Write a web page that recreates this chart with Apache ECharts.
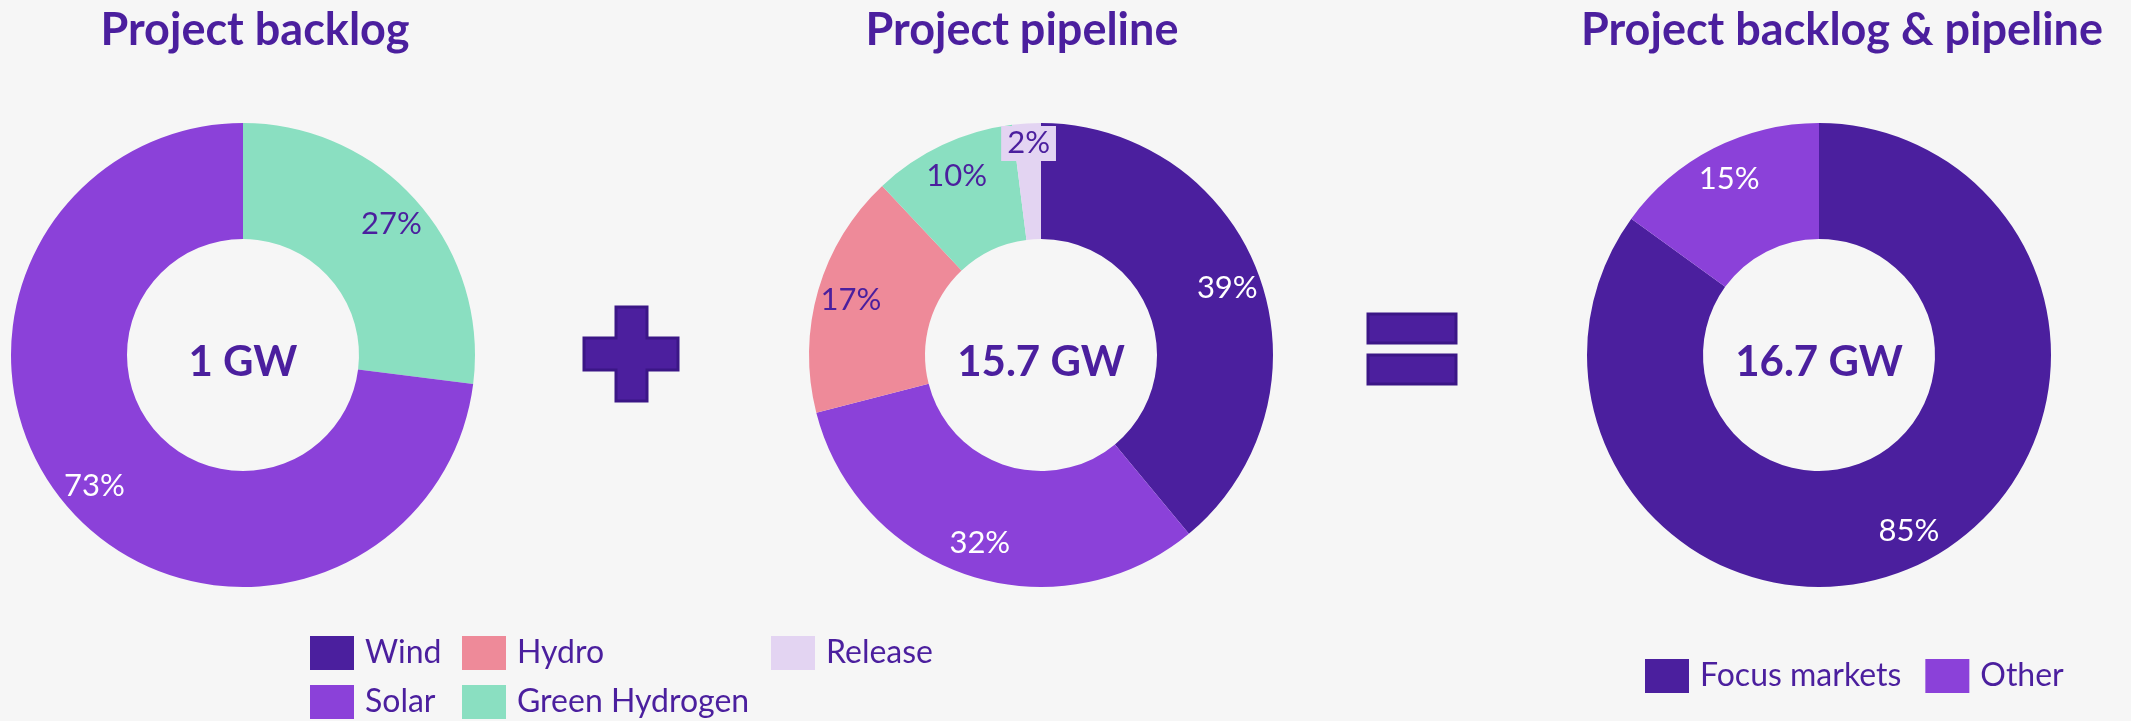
<!DOCTYPE html>
<html>
<head>
<meta charset="utf-8">
<script src="https://cdn.jsdelivr.net/npm/echarts@6/dist/echarts.min.js"></script>
<style>
  html, body { margin: 0; padding: 0; background: #f6f6f6; }
  #chart { width: 2131px; height: 721px; }
</style>
</head>
<body>
<div id="chart"></div>
<script>
// =====================
// 数据
// =====================

const titles = ["Project backlog", "Project pipeline", "Project backlog & pipeline"];
const totals = ["1 GW", "15.7 GW", "16.7 GW"];

const backlogNames = ["Green Hydrogen", "Solar"];
const backlogValues = [27, 73];

const pipelineNames = ["Wind", "Solar", "Hydro", "Green Hydrogen", "Release"];
const pipelineValues = [39, 32, 17, 10, 2];

const totalNames = ["Focus markets", "Other"];
const totalValues = [85, 15];

const legendCols = [["Wind", "Solar"], ["Hydro", "Green Hydrogen"], ["Release"]];

// =====================
// 样式
// =====================

const PURPLE = "#4b1f9e";
const FONT = "Lato";

const colors = {
  Wind: "#4b1f9e",
  Solar: "#8b41d9",
  Hydro: "#ee8a99",
  "Green Hydrogen": "#8adfc1",
  Release: "#e3d4f2",
  "Focus markets": "#4b1f9e",
  Other: "#8b41d9",
};

const darkSlices = ["Wind", "Solar", "Focus markets", "Other"];

const centersX = [243, 1041, 1819];
const centerY = 355;
const titleX = [255, 1022, 1842];

// =====================
// 饼图
// =====================

function ringSeries(names, values, cx) {
  return {
    type: "pie",
    center: [cx, centerY],
    radius: [116, 232],
    startAngle: 90,
    clockwise: true,
    silent: true,
    label: { show: false },
    labelLine: { show: false },
    data: names.map((name, i) => ({
      name: name,
      value: values[i],
      itemStyle: { color: colors[name] },
    })),
  };
}

// 标签放在外环附近，用一个透明的环来定位
function labelSeries(names, values, cx) {
  return {
    type: "pie",
    center: [cx, centerY],
    radius: [158, 232],
    startAngle: 90,
    clockwise: true,
    silent: true,
    avoidLabelOverlap: false,
    labelLine: { show: false },
    data: names.map((name, i) => {
      const item = {
        name: name,
        value: values[i],
        itemStyle: { color: "rgba(0,0,0,0)" },
        label: {
          show: true,
          position: "inside",
          formatter: "{c}%",
          fontFamily: FONT,
          fontSize: 31,
          color: darkSlices.includes(name) ? "#ffffff" : PURPLE,
        },
      };
      if (name === "Release") {
        item.label.backgroundColor = colors.Release;
        item.label.padding = [2, 6];
        item.label.offset = [0, -14];
      }
      return item;
    }),
  };
}

// =====================
// 图例
// =====================

function legendBlock(data, left, top, orient) {
  return {
    data: data,
    orient: orient,
    left: left,
    top: top,
    padding: 0,
    icon: "rect",
    itemWidth: 44,
    itemHeight: 34,
    itemGap: orient === "vertical" ? 15 : 24,
    selectedMode: false,
    textStyle: {
      fontFamily: FONT,
      fontSize: 32,
      lineHeight: 34,
      color: PURPLE,
      padding: [0, 0, 0, 6],
    },
  };
}

// =====================
// 初始化
// =====================

const chart = echarts.init(document.getElementById("chart"));

const titleList = [];
titles.forEach((t, i) => {
  titleList.push({
    text: t,
    left: titleX[i],
    top: 30,
    padding: 0,
    textAlign: "center",
    textVerticalAlign: "middle",
    textStyle: { fontFamily: FONT, fontSize: 45, fontWeight: "bold", color: PURPLE },
  });
});
totals.forEach((t, i) => {
  titleList.push({
    text: t,
    left: centersX[i],
    top: 362,
    padding: 0,
    textAlign: "center",
    textVerticalAlign: "middle",
    textStyle: { fontFamily: FONT, fontSize: 42, fontWeight: "bold", color: PURPLE },
  });
});

const signStyle = { fill: "#4c1f9e", stroke: "#3b1686", lineWidth: 3 };

chart.setOption({
  animation: false,
  backgroundColor: "#f6f6f6",
  title: titleList,
  legend: [
    legendBlock(legendCols[0], 310, 636, "vertical"),
    legendBlock(legendCols[1], 462, 636, "vertical"),
    legendBlock(legendCols[2], 771, 636, "vertical"),
    legendBlock(totalNames, 1645, 659, "horizontal"),
  ],
  graphic: [
    {
      type: "polygon",
      silent: true,
      shape: {
        points: [
          [616, 307], [647, 307], [647, 338], [678, 338], [678, 370], [647, 370],
          [647, 401], [616, 401], [616, 370], [584, 370], [584, 338], [616, 338],
        ],
      },
      style: signStyle,
    },
    { type: "rect", silent: true, shape: { x: 1368, y: 314, width: 88, height: 29 }, style: signStyle },
    { type: "rect", silent: true, shape: { x: 1368, y: 355, width: 88, height: 29 }, style: signStyle },
  ],
  series: [
    ringSeries(backlogNames, backlogValues, centersX[0]),
    ringSeries(pipelineNames, pipelineValues, centersX[1]),
    ringSeries(totalNames, totalValues, centersX[2]),
    labelSeries(backlogNames, backlogValues, centersX[0]),
    labelSeries(pipelineNames, pipelineValues, centersX[1]),
    labelSeries(totalNames, totalValues, centersX[2]),
  ],
});
</script>
</body>
</html>
